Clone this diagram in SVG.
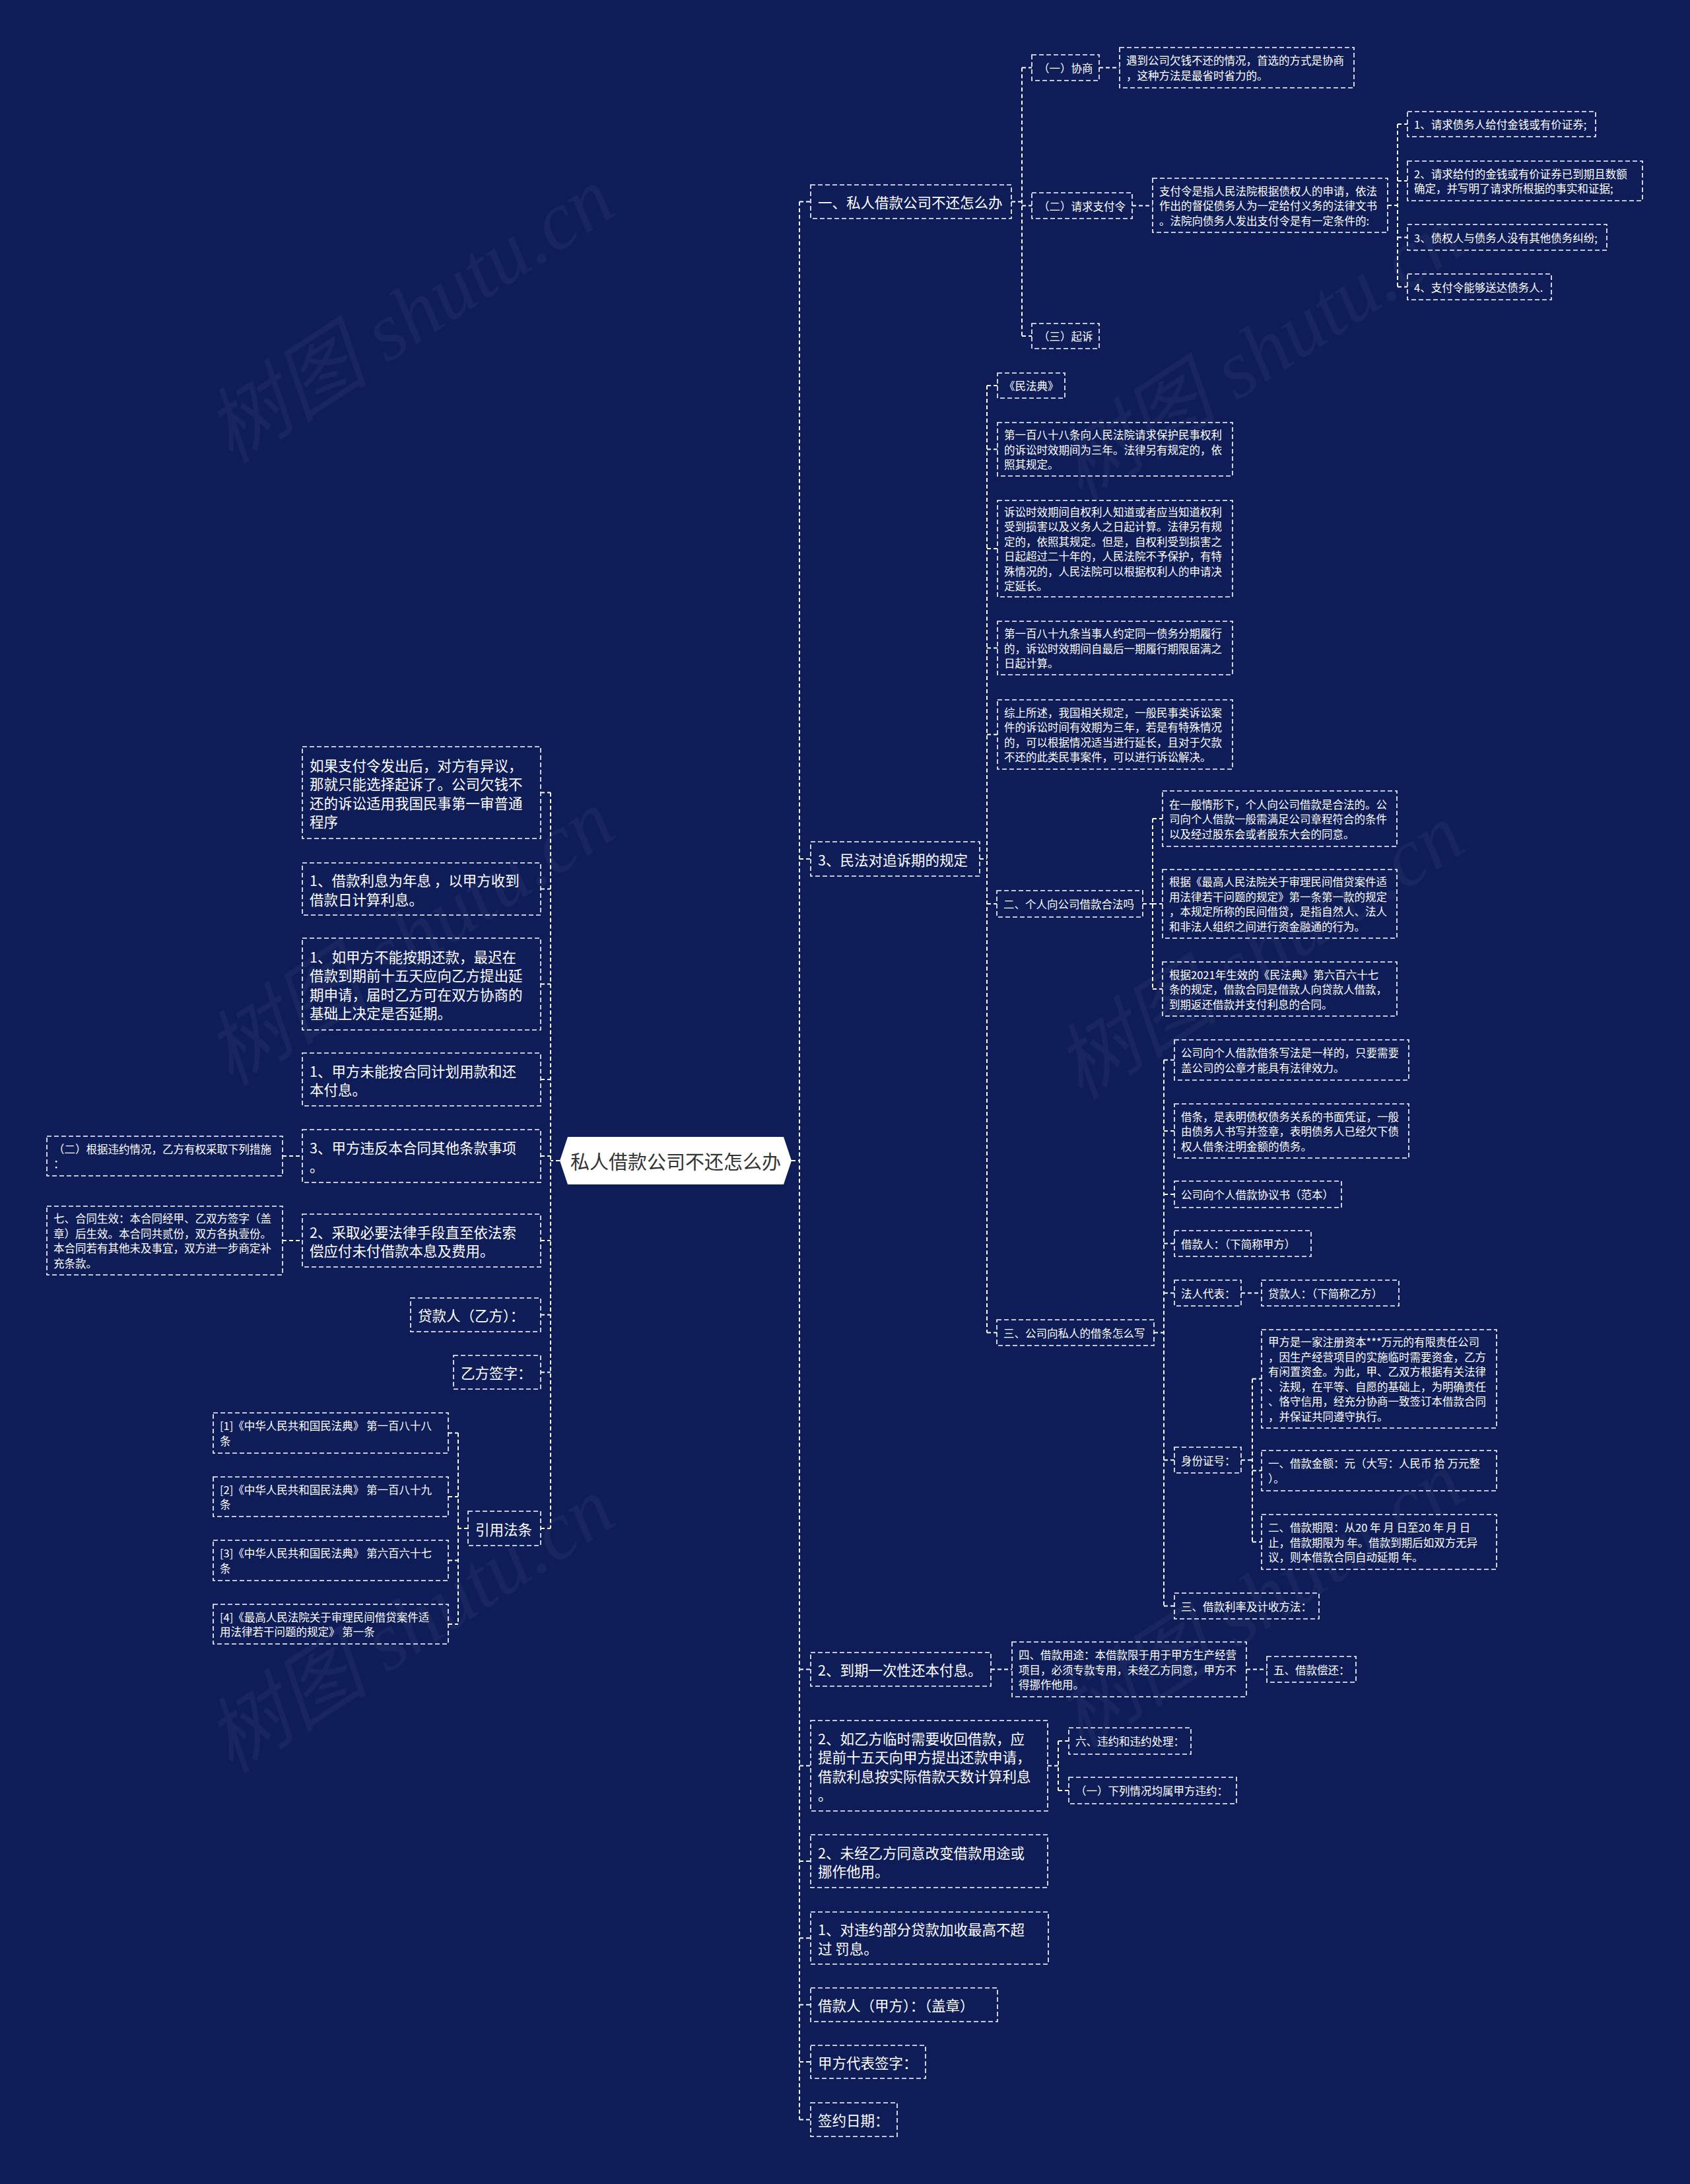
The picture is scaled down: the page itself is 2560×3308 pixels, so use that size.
<svg xmlns="http://www.w3.org/2000/svg" width="2560" height="3308" viewBox="0 0 2560 3308">
<style>
.box{fill:none;stroke:#ffffff;stroke-width:1.6;stroke-dasharray:7 4}
.t{font-family:"Noto Sans CJK SC","Microsoft YaHei","Liberation Sans",sans-serif;fill:#ffffff;dominant-baseline:central}
.s{font-size:16.5px}
.m{font-size:21.5px}
.conn path{fill:none;stroke:#ffffff;stroke-width:2;stroke-dasharray:6 4}
.wm{font-family:"Liberation Serif","Noto Sans CJK SC",serif;font-style:italic;font-size:125px;fill:#ffffff;opacity:0.04}
</style>
<rect x="0" y="0" width="2560" height="3308" fill="#0e1c57"/>
<g id="watermarks">
<text class="wm" text-anchor="middle" transform="translate(644,513) rotate(-33)">树图 shutu.cn</text>
<text class="wm" text-anchor="middle" transform="translate(1931,570) rotate(-33)">树图 shutu.cn</text>
<text class="wm" text-anchor="middle" transform="translate(644,1456) rotate(-33)">树图 shutu.cn</text>
<text class="wm" text-anchor="middle" transform="translate(1931,1477) rotate(-33)">树图 shutu.cn</text>
<text class="wm" text-anchor="middle" transform="translate(644,2497) rotate(-33)">树图 shutu.cn</text>
<text class="wm" text-anchor="middle" transform="translate(1931,2459) rotate(-33)">树图 shutu.cn</text>
</g>
<g class="conn" id="connectors">
<path d="M1199,1758 H1211 M1211,305.5 V3210.5 M1211,305.5 H1228 M1211,1301 H1228 M1211,2528.5 H1228 M1211,2674.5 H1228 M1211,2819 H1228 M1211,2935.5 H1228 M1211,3036.5 H1228 M1211,3123 H1228 M1211,3210.5 H1228"/>
<path d="M848,1758 H834 M834,1200.5 V2315 M819,1200.5 H834 M819,1346.5 H834 M819,1490.5 H834 M819,1635 H834 M819,1751 H834 M819,1879 H834 M819,1991.5 H834 M819,2078.5 H834 M819,2315 H834"/>
<path d="M1532,305.5 H1548 M1548,102.5 V509 M1548,102.5 H1563 M1548,311.5 H1563 M1548,509 H1563"/>
<path d="M1665,102.5 H1696 M1715,311.5 H1746 M2102,311 H2117 M2117,188 V434.5 M2117,188 H2132 M2117,274 H2132 M2117,359.5 H2132 M2117,434.5 H2132"/>
<path d="M1484,1301 H1495 M1495,584 V2018.5 M1495,584 H1511 M1495,680.5 H1511 M1495,831 H1511 M1495,981.5 H1511 M1495,1112.5 H1511 M1495,1369 H1510 M1495,2018.5 H1510"/>
<path d="M1731,1369 H1746 M1746,1240 V1498 M1746,1240 H1761 M1746,1369 H1761 M1746,1498 H1761"/>
<path d="M1748,2018.5 H1763 M1763,1605.5 V2432.5 M1763,1605.5 H1779 M1763,1713 H1779 M1763,1809 H1779 M1763,1883.5 H1779 M1763,1958.5 H1779 M1763,2211.5 H1779 M1763,2432.5 H1779"/>
<path d="M1880,1958.5 H1911"/>
<path d="M1880,2211.5 H1897 M1897,2088.5 V2335.5 M1897,2088.5 H1911 M1897,2227.5 H1911 M1897,2335.5 H1911"/>
<path d="M1501,2528.5 H1533 M1888,2528.5 H1919"/>
<path d="M1587,2674.5 H1603 M1603,2637 V2712 M1603,2637 H1619 M1603,2712 H1619"/>
<path d="M428,1751 H458 M428,1879 H458"/>
<path d="M709,2315 H694 M694,2170.5 V2460 M679,2170.5 H694 M679,2267 H694 M679,2363.5 H694 M679,2460 H694"/>
</g>
<g id="root">
<polygon points="860,1722 1187,1722 1199,1758 1187,1794 860,1794 848,1758" fill="#ffffff"/>
<text x="1023.5" y="1758" text-anchor="middle" style="font-family:'Noto Sans CJK SC','Microsoft YaHei',sans-serif;font-size:29px;fill:#333333;dominant-baseline:central">私人借款公司不还怎么办</text>
</g>
<g id="r1"><rect class="box" x="1228" y="280" width="304" height="51"/><text class="t m" x="1239" y="305.5">一、私人借款公司不还怎么办</text></g>
<g id="t1"><rect class="box" x="1563" y="83" width="102" height="39"/><text class="t s" x="1573" y="102.5">（一）协商</text></g>
<g id="t1a"><rect class="box" x="1696" y="72" width="355" height="61"/><text class="t s"><tspan x="1706" y="91.25">遇到公司欠钱不还的情况，首选的方式是协商</tspan><tspan x="1706" y="113.75">，这种方法是最省时省力的。</tspan></text></g>
<g id="t2"><rect class="box" x="1563" y="292" width="152" height="39"/><text class="t s" x="1573" y="311.5">（二）请求支付令</text></g>
<g id="t2a"><rect class="box" x="1746" y="270" width="356" height="82"/><text class="t s"><tspan x="1756" y="288.5">支付令是指人民法院根据债权人的申请，依法</tspan><tspan x="1756" y="311">作出的督促债务人为一定给付义务的法律文书</tspan><tspan x="1756" y="333.5">。法院向债务人发出支付令是有一定条件的:</tspan></text></g>
<g id="t2b1"><rect class="box" x="2132" y="169" width="285" height="38"/><text class="t s" x="2142" y="188">1、请求债务人给付金钱或有价证券;</text></g>
<g id="t2b2"><rect class="box" x="2132" y="244" width="356" height="60"/><text class="t s"><tspan x="2142" y="262.75">2、请求给付的金钱或有价证券已到期且数额</tspan><tspan x="2142" y="285.25">确定，并写明了请求所根据的事实和证据;</tspan></text></g>
<g id="t2b3"><rect class="box" x="2132" y="340" width="302" height="39"/><text class="t s" x="2142" y="359.5">3、债权人与债务人没有其他债务纠纷;</text></g>
<g id="t2b4"><rect class="box" x="2132" y="415" width="218" height="39"/><text class="t s" x="2142" y="434.5">4、支付令能够送达债务人.</text></g>
<g id="t3"><rect class="box" x="1563" y="490" width="102" height="38"/><text class="t s" x="1573" y="509">（三）起诉</text></g>
<g id="r2"><rect class="box" x="1228" y="1275" width="256" height="52"/><text class="t m" x="1239" y="1301">3、民法对追诉期的规定</text></g>
<g id="m1"><rect class="box" x="1511" y="565" width="102" height="38"/><text class="t s" x="1521" y="584">《民法典》</text></g>
<g id="m2"><rect class="box" x="1511" y="640" width="356" height="81"/><text class="t s"><tspan x="1521" y="658">第一百八十八条向人民法院请求保护民事权利</tspan><tspan x="1521" y="680.5">的诉讼时效期间为三年。法律另有规定的，依</tspan><tspan x="1521" y="703">照其规定。</tspan></text></g>
<g id="m3"><rect class="box" x="1511" y="758" width="356" height="146"/><text class="t s"><tspan x="1521" y="774.75">诉讼时效期间自权利人知道或者应当知道权利</tspan><tspan x="1521" y="797.25">受到损害以及义务人之日起计算。法律另有规</tspan><tspan x="1521" y="819.75">定的，依照其规定。但是，自权利受到损害之</tspan><tspan x="1521" y="842.25">日起超过二十年的，人民法院不予保护，有特</tspan><tspan x="1521" y="864.75">殊情况的，人民法院可以根据权利人的申请决</tspan><tspan x="1521" y="887.25">定延长。</tspan></text></g>
<g id="m4"><rect class="box" x="1511" y="941" width="356" height="81"/><text class="t s"><tspan x="1521" y="959">第一百八十九条当事人约定同一债务分期履行</tspan><tspan x="1521" y="981.5">的，诉讼时效期间自最后一期履行期限届满之</tspan><tspan x="1521" y="1004">日起计算。</tspan></text></g>
<g id="m5"><rect class="box" x="1511" y="1060" width="356" height="105"/><text class="t s"><tspan x="1521" y="1078.75">综上所述，我国相关规定，一般民事类诉讼案</tspan><tspan x="1521" y="1101.25">件的诉讼时间有效期为三年，若是有特殊情况</tspan><tspan x="1521" y="1123.75">的，可以根据情况适当进行延长，且对于欠款</tspan><tspan x="1521" y="1146.25">不还的此类民事案件，可以进行诉讼解决。</tspan></text></g>
<g id="m6"><rect class="box" x="1510" y="1349" width="221" height="40"/><text class="t s" x="1520" y="1369">二、个人向公司借款合法吗</text></g>
<g id="n1"><rect class="box" x="1761" y="1198" width="355" height="84"/><text class="t s"><tspan x="1771" y="1217.5">在一般情形下，个人向公司借款是合法的。公</tspan><tspan x="1771" y="1240">司向个人借款一般需满足公司章程符合的条件</tspan><tspan x="1771" y="1262.5">以及经过股东会或者股东大会的同意。</tspan></text></g>
<g id="n2"><rect class="box" x="1761" y="1317" width="355" height="104"/><text class="t s"><tspan x="1771" y="1335.25">根据《最高人民法院关于审理民间借贷案件适</tspan><tspan x="1771" y="1357.75">用法律若干问题的规定》第一条第一款的规定</tspan><tspan x="1771" y="1380.25">，本规定所称的民间借贷，是指自然人、法人</tspan><tspan x="1771" y="1402.75">和非法人组织之间进行资金融通的行为。</tspan></text></g>
<g id="n3"><rect class="box" x="1761" y="1457" width="355" height="82"/><text class="t s"><tspan x="1771" y="1475.5">根据2021年生效的《民法典》第六百六十七</tspan><tspan x="1771" y="1498">条的规定，借款合同是借款人向贷款人借款，</tspan><tspan x="1771" y="1520.5">到期返还借款并支付利息的合同。</tspan></text></g>
<g id="m7"><rect class="box" x="1510" y="1999" width="238" height="39"/><text class="t s" x="1520" y="2018.5">三、公司向私人的借条怎么写</text></g>
<g id="p1"><rect class="box" x="1779" y="1575" width="355" height="61"/><text class="t s"><tspan x="1789" y="1594.25">公司向个人借款借条写法是一样的，只要需要</tspan><tspan x="1789" y="1616.75">盖公司的公章才能具有法律效力。</tspan></text></g>
<g id="p2"><rect class="box" x="1779" y="1672" width="355" height="82"/><text class="t s"><tspan x="1789" y="1690.5">借条，是表明债权债务关系的书面凭证，一般</tspan><tspan x="1789" y="1713">由债务人书写并签章，表明债务人已经欠下债</tspan><tspan x="1789" y="1735.5">权人借条注明金额的债务。</tspan></text></g>
<g id="p3"><rect class="box" x="1779" y="1789" width="253" height="40"/><text class="t s" x="1789" y="1809">公司向个人借款协议书（范本）</text></g>
<g id="p4"><rect class="box" x="1779" y="1864" width="207" height="39"/><text class="t s" x="1789" y="1883.5">借款人：（下简称甲方）</text></g>
<g id="p5"><rect class="box" x="1779" y="1939" width="101" height="39"/><text class="t s" x="1789" y="1958.5">法人代表：</text></g>
<g id="p5a"><rect class="box" x="1911" y="1939" width="208" height="39"/><text class="t s" x="1921" y="1958.5">贷款人：（下简称乙方）</text></g>
<g id="p6"><rect class="box" x="1779" y="2192" width="101" height="39"/><text class="t s" x="1789" y="2211.5">身份证号：</text></g>
<g id="q1"><rect class="box" x="1911" y="2014" width="356" height="149"/><text class="t s"><tspan x="1921" y="2032.25">甲方是一家注册资本***万元的有限责任公司</tspan><tspan x="1921" y="2054.75">，因生产经营项目的实施临时需要资金，乙方</tspan><tspan x="1921" y="2077.25">有闲置资金。为此，甲、乙双方根据有关法律</tspan><tspan x="1921" y="2099.75">、法规，在平等、自愿的基础上，为明确责任</tspan><tspan x="1921" y="2122.25">、恪守信用，经充分协商一致签订本借款合同</tspan><tspan x="1921" y="2144.75">，并保证共同遵守执行。</tspan></text></g>
<g id="q2"><rect class="box" x="1911" y="2197" width="356" height="61"/><text class="t s"><tspan x="1921" y="2216.25">一、借款金额：元（大写：人民币 拾 万元整</tspan><tspan x="1921" y="2238.75">）。</tspan></text></g>
<g id="q3"><rect class="box" x="1911" y="2294" width="356" height="83"/><text class="t s"><tspan x="1921" y="2313">二、借款期限：从20 年 月 日至20 年 月 日</tspan><tspan x="1921" y="2335.5">止，借款期限为 年。借款到期后如双方无异</tspan><tspan x="1921" y="2358">议，则本借款合同自动延期 年。</tspan></text></g>
<g id="p7"><rect class="box" x="1779" y="2413" width="219" height="39"/><text class="t s" x="1789" y="2432.5">三、借款利率及计收方法：</text></g>
<g id="r3"><rect class="box" x="1228" y="2503" width="273" height="51"/><text class="t m" x="1239" y="2528.5">2、到期一次性还本付息。</text></g>
<g id="s1"><rect class="box" x="1533" y="2487" width="355" height="83"/><text class="t s"><tspan x="1543" y="2506">四、借款用途：本借款限于用于甲方生产经营</tspan><tspan x="1543" y="2528.5">项目，必须专款专用，未经乙方同意，甲方不</tspan><tspan x="1543" y="2551">得挪作他用。</tspan></text></g>
<g id="s2"><rect class="box" x="1919" y="2509" width="135" height="39"/><text class="t s" x="1929" y="2528.5">五、借款偿还：</text></g>
<g id="r4"><rect class="box" x="1228" y="2606" width="359" height="137"/><text class="t m"><tspan x="1239" y="2631.75">2、如乙方临时需要收回借款，应</tspan><tspan x="1239" y="2660.25">提前十五天向甲方提出还款申请，</tspan><tspan x="1239" y="2688.75">借款利息按实际借款天数计算利息</tspan><tspan x="1239" y="2717.25">。</tspan></text></g>
<g id="u1"><rect class="box" x="1619" y="2617" width="185" height="40"/><text class="t s" x="1629" y="2637">六、违约和违约处理：</text></g>
<g id="u2"><rect class="box" x="1619" y="2692" width="254" height="40"/><text class="t s" x="1629" y="2712">（一）下列情况均属甲方违约：</text></g>
<g id="r5"><rect class="box" x="1228" y="2779" width="359" height="80"/><text class="t m"><tspan x="1239" y="2804.75">2、未经乙方同意改变借款用途或</tspan><tspan x="1239" y="2833.25">挪作他用。</tspan></text></g>
<g id="r6"><rect class="box" x="1228" y="2896" width="360" height="79"/><text class="t m"><tspan x="1239" y="2921.25">1、对违约部分贷款加收最高不超</tspan><tspan x="1239" y="2949.75">过 罚息。</tspan></text></g>
<g id="r7"><rect class="box" x="1228" y="3011" width="283" height="51"/><text class="t m" x="1239" y="3036.5">借款人（甲方）：（盖章）</text></g>
<g id="r8"><rect class="box" x="1228" y="3098" width="174" height="50"/><text class="t m" x="1239" y="3123">甲方代表签字：</text></g>
<g id="r9"><rect class="box" x="1228" y="3185" width="131" height="51"/><text class="t m" x="1239" y="3210.5">签约日期：</text></g>
<g id="l1"><rect class="box" x="458" y="1131" width="361" height="139"/><text class="t m"><tspan x="469" y="1157.75">如果支付令发出后，对方有异议，</tspan><tspan x="469" y="1186.25">那就只能选择起诉了。公司欠钱不</tspan><tspan x="469" y="1214.75">还的诉讼适用我国民事第一审普通</tspan><tspan x="469" y="1243.25">程序</tspan></text></g>
<g id="l2"><rect class="box" x="458" y="1307" width="361" height="79"/><text class="t m"><tspan x="469" y="1332.25">1、借款利息为年息 ，以甲方收到</tspan><tspan x="469" y="1360.75">借款日计算利息。</tspan></text></g>
<g id="l3"><rect class="box" x="458" y="1421" width="361" height="139"/><text class="t m"><tspan x="469" y="1447.75">1、如甲方不能按期还款，最迟在</tspan><tspan x="469" y="1476.25">借款到期前十五天应向乙方提出延</tspan><tspan x="469" y="1504.75">期申请，届时乙方可在双方协商的</tspan><tspan x="469" y="1533.25">基础上决定是否延期。</tspan></text></g>
<g id="l4"><rect class="box" x="458" y="1595" width="361" height="80"/><text class="t m"><tspan x="469" y="1620.75">1、甲方未能按合同计划用款和还</tspan><tspan x="469" y="1649.25">本付息。</tspan></text></g>
<g id="l5"><rect class="box" x="458" y="1711" width="361" height="80"/><text class="t m"><tspan x="469" y="1736.75">3、甲方违反本合同其他条款事项</tspan><tspan x="469" y="1765.25">。</tspan></text></g>
<g id="ll1"><rect class="box" x="71" y="1721" width="357" height="60"/><text class="t s"><tspan x="81" y="1739.75">（二）根据违约情况，乙方有权采取下列措施</tspan><tspan x="81" y="1762.25">：</tspan></text></g>
<g id="l6"><rect class="box" x="458" y="1839" width="361" height="80"/><text class="t m"><tspan x="469" y="1864.75">2、采取必要法律手段直至依法索</tspan><tspan x="469" y="1893.25">偿应付未付借款本息及费用。</tspan></text></g>
<g id="ll2"><rect class="box" x="71" y="1827" width="357" height="104"/><text class="t s"><tspan x="81" y="1845.25">七、合同生效：本合同经甲、乙双方签字（盖</tspan><tspan x="81" y="1867.75">章）后生效。本合同共贰份，双方各执壹份。</tspan><tspan x="81" y="1890.25">本合同若有其他未及事宜，双方进一步商定补</tspan><tspan x="81" y="1912.75">充条款。</tspan></text></g>
<g id="l7"><rect class="box" x="622" y="1966" width="197" height="51"/><text class="t m" x="633" y="1991.5">贷款人（乙方）：</text></g>
<g id="l8"><rect class="box" x="687" y="2053" width="132" height="51"/><text class="t m" x="698" y="2078.5">乙方签字：</text></g>
<g id="l9"><rect class="box" x="709" y="2289" width="110" height="52"/><text class="t m" x="720" y="2315">引用法条</text></g>
<g id="c1"><rect class="box" x="323" y="2140" width="356" height="61"/><text class="t s"><tspan x="333" y="2159.25">[1]《中华人民共和国民法典》 第一百八十八</tspan><tspan x="333" y="2181.75">条</tspan></text></g>
<g id="c2"><rect class="box" x="323" y="2237" width="356" height="60"/><text class="t s"><tspan x="333" y="2255.75">[2]《中华人民共和国民法典》 第一百八十九</tspan><tspan x="333" y="2278.25">条</tspan></text></g>
<g id="c3"><rect class="box" x="323" y="2333" width="356" height="61"/><text class="t s"><tspan x="333" y="2352.25">[3]《中华人民共和国民法典》 第六百六十七</tspan><tspan x="333" y="2374.75">条</tspan></text></g>
<g id="c4"><rect class="box" x="323" y="2430" width="356" height="60"/><text class="t s"><tspan x="333" y="2448.75">[4]《最高人民法院关于审理民间借贷案件适</tspan><tspan x="333" y="2471.25">用法律若干问题的规定》 第一条</tspan></text></g>
</svg>
